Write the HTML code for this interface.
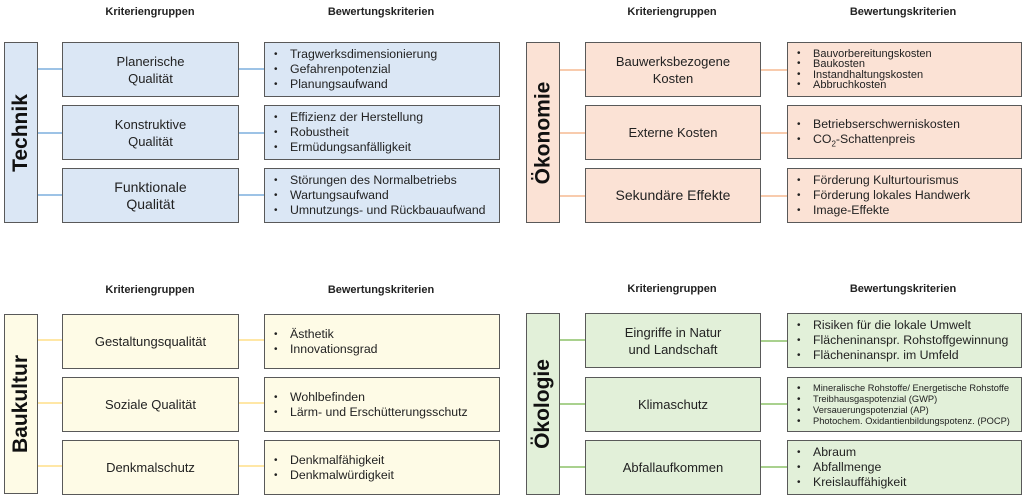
<!DOCTYPE html>
<html><head><meta charset="utf-8"><style>
body{margin:0;width:1024px;height:499px;background:#fff;position:relative;overflow:hidden;font-family:"Liberation Sans",Arial,sans-serif;color:#222}
.b{position:absolute;box-sizing:border-box;border:1.5px solid #595959}
.h{position:absolute;font-size:11px;font-weight:bold;width:160px;text-align:center}
.m{display:flex;align-items:center;justify-content:center}
.m span{transform:rotate(-90deg);font-size:21px;font-weight:bold;white-space:nowrap;color:#111}
.g{display:flex;align-items:center;justify-content:center;text-align:center;font-size:13px;line-height:17px}
.c{display:flex;flex-direction:column;justify-content:center;font-size:12.3px;line-height:15px;padding-left:9px}
.c div{position:relative;padding-left:16px;white-space:nowrap}
.c div:before{content:"•";position:absolute;left:0;font-size:10px}
.s{font-size:11px;line-height:10.5px}
.xs{font-size:9.3px;line-height:11px}
.l{position:absolute;height:2px}
.T{background:#dbe7f5}.O{background:#fbe2d5}.Y{background:#fefbe6}.G{background:#e2f0d9}
.lT{background:#9dc3e6}.lO{background:#f8cbad}.lY{background:#ffe7a6}.lG{background:#a9d18e}
</style></head><body>

<div class="h" style="left:70px;top:6px">Kriteriengruppen</div>
<div class="h" style="left:301px;top:6px">Bewertungskriterien</div>
<div class="h" style="left:592px;top:6px">Kriteriengruppen</div>
<div class="h" style="left:823px;top:6px">Bewertungskriterien</div>
<div class="h" style="left:70px;top:284px">Kriteriengruppen</div>
<div class="h" style="left:301px;top:284px">Bewertungskriterien</div>
<div class="h" style="left:592px;top:283px">Kriteriengruppen</div>
<div class="h" style="left:823px;top:283px">Bewertungskriterien</div>

<!-- Technik -->
<div class="l lT" style="left:37px;top:68px;width:26px"></div>
<div class="l lT" style="left:37px;top:132px;width:26px"></div>
<div class="l lT" style="left:37px;top:194px;width:26px"></div>
<div class="l lT" style="left:238px;top:68px;width:27px"></div>
<div class="l lT" style="left:238px;top:132px;width:27px"></div>
<div class="l lT" style="left:238px;top:194px;width:27px"></div>
<div class="b m T" style="left:4px;top:42px;width:34px;height:181px"><span>Technik</span></div>
<div class="b g T" style="left:62px;top:42px;width:177px;height:55px">Planerische<br>Qualität</div>
<div class="b g T" style="left:62px;top:105px;width:177px;height:55px">Konstruktive<br>Qualität</div>
<div class="b g T" style="left:62px;top:168px;width:177px;height:55px;font-size:14px">Funktionale<br>Qualität</div>
<div class="b c T" style="left:264px;top:42px;width:236px;height:55px"><div>Tragwerksdimensionierung</div><div>Gefahrenpotenzial</div><div>Planungsaufwand</div></div>
<div class="b c T" style="left:264px;top:105px;width:236px;height:55px"><div>Effizienz der Herstellung</div><div>Robustheit</div><div>Ermüdungsanfälligkeit</div></div>
<div class="b c T" style="left:264px;top:168px;width:236px;height:55px"><div>Störungen des Normalbetriebs</div><div>Wartungsaufwand</div><div>Umnutzungs- und Rückbauaufwand</div></div>

<!-- Ökonomie -->
<div class="l lO" style="left:559px;top:69px;width:27px"></div>
<div class="l lO" style="left:559px;top:132px;width:27px"></div>
<div class="l lO" style="left:559px;top:195px;width:27px"></div>
<div class="l lO" style="left:760px;top:69px;width:28px"></div>
<div class="l lO" style="left:760px;top:132px;width:28px"></div>
<div class="l lO" style="left:760px;top:195px;width:28px"></div>
<div class="b m O" style="left:526px;top:42px;width:34px;height:181px"><span>Ökonomie</span></div>
<div class="b g O" style="left:585px;top:42px;width:176px;height:55px">Bauwerksbezogene<br>Kosten</div>
<div class="b g O" style="left:585px;top:105px;width:176px;height:55px">Externe Kosten</div>
<div class="b g O" style="left:585px;top:168px;width:176px;height:55px;font-size:14px">Sekundäre Effekte</div>
<div class="b c O s" style="left:787px;top:42px;width:235px;height:55px"><div>Bauvorbereitungskosten</div><div>Baukosten</div><div>Instandhaltungskosten</div><div>Abbruchkosten</div></div>
<div class="b c O" style="left:787px;top:105px;width:235px;height:54px"><div>Betriebserschwerniskosten</div><div>CO<sub style="font-size:8px;line-height:0">2</sub>-Schattenpreis</div></div>
<div class="b c O" style="left:787px;top:168px;width:235px;height:55px"><div>Förderung Kulturtourismus</div><div>Förderung lokales Handwerk</div><div>Image-Effekte</div></div>

<!-- Baukultur -->
<div class="l lY" style="left:37px;top:339px;width:26px"></div>
<div class="l lY" style="left:37px;top:402px;width:26px"></div>
<div class="l lY" style="left:37px;top:465px;width:26px"></div>
<div class="l lY" style="left:238px;top:339px;width:27px"></div>
<div class="l lY" style="left:238px;top:402px;width:27px"></div>
<div class="l lY" style="left:238px;top:465px;width:27px"></div>
<div class="b m Y" style="left:4px;top:314px;width:34px;height:180px"><span>Baukultur</span></div>
<div class="b g Y" style="left:62px;top:314px;width:177px;height:55px">Gestaltungsqualität</div>
<div class="b g Y" style="left:62px;top:377px;width:177px;height:55px">Soziale Qualität</div>
<div class="b g Y" style="left:62px;top:440px;width:177px;height:55px">Denkmalschutz</div>
<div class="b c Y" style="left:264px;top:314px;width:236px;height:55px"><div>Ästhetik</div><div>Innovationsgrad</div></div>
<div class="b c Y" style="left:264px;top:377px;width:236px;height:55px"><div>Wohlbefinden</div><div>Lärm- und Erschütterungsschutz</div></div>
<div class="b c Y" style="left:264px;top:440px;width:236px;height:55px"><div>Denkmalfähigkeit</div><div>Denkmalwürdigkeit</div></div>

<!-- Ökologie -->
<div class="l lG" style="left:559px;top:339px;width:27px"></div>
<div class="l lG" style="left:559px;top:403px;width:27px"></div>
<div class="l lG" style="left:559px;top:466px;width:27px"></div>
<div class="l lG" style="left:760px;top:340px;width:28px"></div>
<div class="l lG" style="left:760px;top:403px;width:28px"></div>
<div class="l lG" style="left:760px;top:466px;width:28px"></div>
<div class="b m G" style="left:526px;top:313px;width:34px;height:182px"><span>Ökologie</span></div>
<div class="b g G" style="left:585px;top:313px;width:176px;height:55px">Eingriffe in Natur<br>und Landschaft</div>
<div class="b g G" style="left:585px;top:377px;width:176px;height:55px">Klimaschutz</div>
<div class="b g G" style="left:585px;top:440px;width:176px;height:55px">Abfallaufkommen</div>
<div class="b c G" style="left:787px;top:313px;width:235px;height:55px"><div>Risiken für die lokale Umwelt</div><div>Flächeninanspr. Rohstoffgewinnung</div><div>Flächeninanspr. im Umfeld</div></div>
<div class="b c G xs" style="left:787px;top:377px;width:235px;height:55px"><div>Mineralische Rohstoffe/ Energetische Rohstoffe</div><div>Treibhausgaspotenzial (GWP)</div><div>Versauerungspotenzial (AP)</div><div>Photochem. Oxidantienbildungspotenz. (POCP)</div></div>
<div class="b c G" style="left:787px;top:440px;width:235px;height:55px"><div>Abraum</div><div>Abfallmenge</div><div>Kreislauffähigkeit</div></div>

</body></html>
